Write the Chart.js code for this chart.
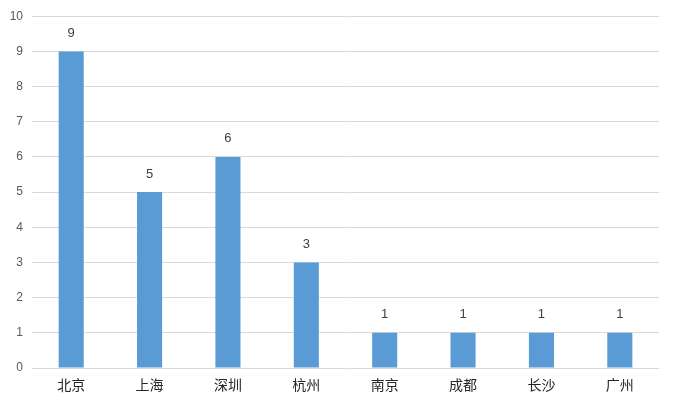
<!DOCTYPE html>
<html>
<head>
<meta charset="utf-8">
<script src="https://cdn.jsdelivr.net/npm/chart.js@4/dist/chart.umd.min.js"></script>
<style>
  html, body { margin: 0; padding: 0; background: #fff; }
  #wrap { width: 676px; height: 407px; }
</style>
</head>
<body>
<div id="wrap"><canvas id="chart"></canvas></div>
<script>
const cities = ['北京', '上海', '深圳', '杭州', '南京', '成都', '长沙', '广州'];
const counts = [9, 5, 6, 3, 1, 1, 1, 1];
const yTicks = [0, 1, 2, 3, 4, 5, 6, 7, 8, 9, 10];

const fontStack = '"Liberation Sans", "Noto Sans CJK SC", sans-serif';

// draw the value above each bar
const barLabels = {
    id: 'barLabels',
    afterDatasetsDraw(chart) {
        const ctx = chart.ctx;
        const meta = chart.getDatasetMeta(0);
        ctx.save();
        ctx.font = '13px ' + fontStack;
        ctx.fillStyle = '#404040';
        ctx.textAlign = 'center';
        ctx.textBaseline = 'middle';
        meta.data.forEach((bar, i) => {
            ctx.fillText(String(counts[i]), bar.x, bar.y - 18);
        });
        ctx.restore();
    }
};

new Chart(document.getElementById('chart'), {
    type: 'bar',
    data: {
        labels: cities,
        datasets: [{
            data: counts,
            backgroundColor: '#5b9bd5',
            barPercentage: 0.32,
            categoryPercentage: 1
        }]
    },
    options: {
        responsive: true,
        maintainAspectRatio: false,
        animation: false,
        layout: { padding: { top: 16, right: 17, left: 0, bottom: 0 } },
        plugins: {
            legend: { display: false },
            tooltip: { enabled: false }
        },
        scales: {
            x: {
                grid: { display: false, drawTicks: false },
                border: { display: false },
                ticks: {
                    color: '#262626',
                    font: { size: 14, family: fontStack },
                    padding: 10
                },
                afterFit(scale) { scale.height = 39; }
            },
            y: {
                min: 0,
                max: 10,
                afterBuildTicks(scale) {
                    scale.ticks = yTicks.map(v => ({ value: v }));
                },
                grid: { color: '#d9d9d9', drawTicks: false },
                border: { display: false },
                ticks: {
                    color: '#595959',
                    font: { size: 12, family: fontStack },
                    padding: 9
                },
                afterFit(scale) { scale.width = 32; }
            }
        }
    },
    plugins: [barLabels]
});
</script>
</body>
</html>
